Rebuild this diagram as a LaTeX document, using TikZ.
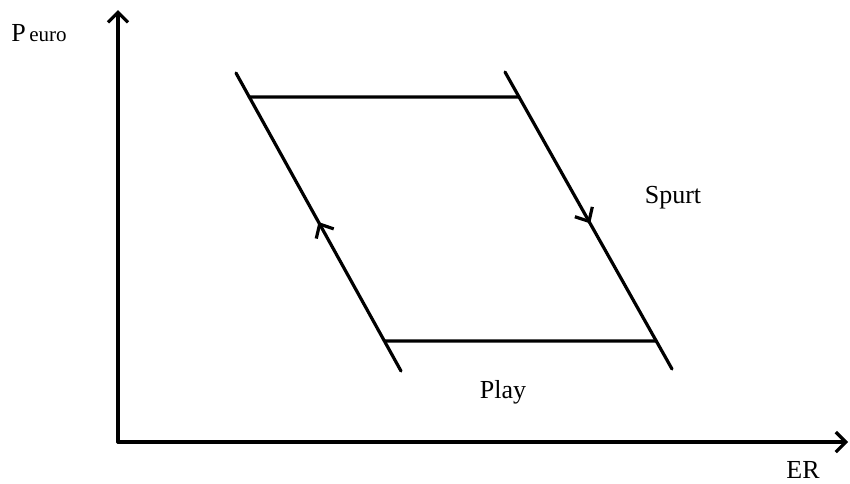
\documentclass[tikz,border=0pt]{standalone}
\usepackage{fontspec}
\setmainfont{Liberation Serif}
\usetikzlibrary{arrows.meta,decorations.markings,calc}
\begin{document}
\begin{tikzpicture}[x=1pt,y=-1pt,
  ln/.style={line width=3.2pt, line cap=round},
  axis/.style={ln, -{Straight Barb[length=10pt,width=20pt,line width=3.2pt]}},
  midarrow/.style={postaction={decorate,decoration={markings,
      mark=at position #1 with {\arrow{Straight Barb[length=11pt,width=20pt,line width=3.2pt]}}}}},
  lbl/.style={font=\fontsize{26}{28}\selectfont, inner sep=0pt}]
\useasboundingbox (0,0) rectangle (850,483);
\coordinate (O) at (118,442);
\coordinate (Ytop) at (118,10);
\coordinate (Xend) at (848,442);
\draw[axis] (O) -- (Ytop);
\draw[axis] (O) -- (Xend);
\coordinate (L1) at (236,73);
\coordinate (L2) at (401,371);
\coordinate (R1) at (505,72);
\coordinate (R2) at (672,369);
\coordinate (TL) at ($(L1)!0.0805!(L2)$);
\coordinate (BL) at ($(L1)!0.899!(L2)$);
\coordinate (TR) at ($(R1)!0.0842!(R2)$);
\coordinate (BR) at ($(R1)!0.906!(R2)$);
\draw[ln, midarrow=0.5] (L2) -- (L1);
\draw[ln, midarrow=0.51] (R1) -- (R2);
\draw[ln] (TL) -- (TR);
\draw[ln] (BL) -- (BR);
\node[lbl] (py) at (39,33) {P{\fontsize{21}{22}\selectfont\,euro}};
\node[lbl] (sp) at (673,198) {Spurt};
\node[lbl] (pl) at (503,392) {Play};
\node[lbl] (er) at (803,470) {ER};
\end{tikzpicture}
\end{document}
